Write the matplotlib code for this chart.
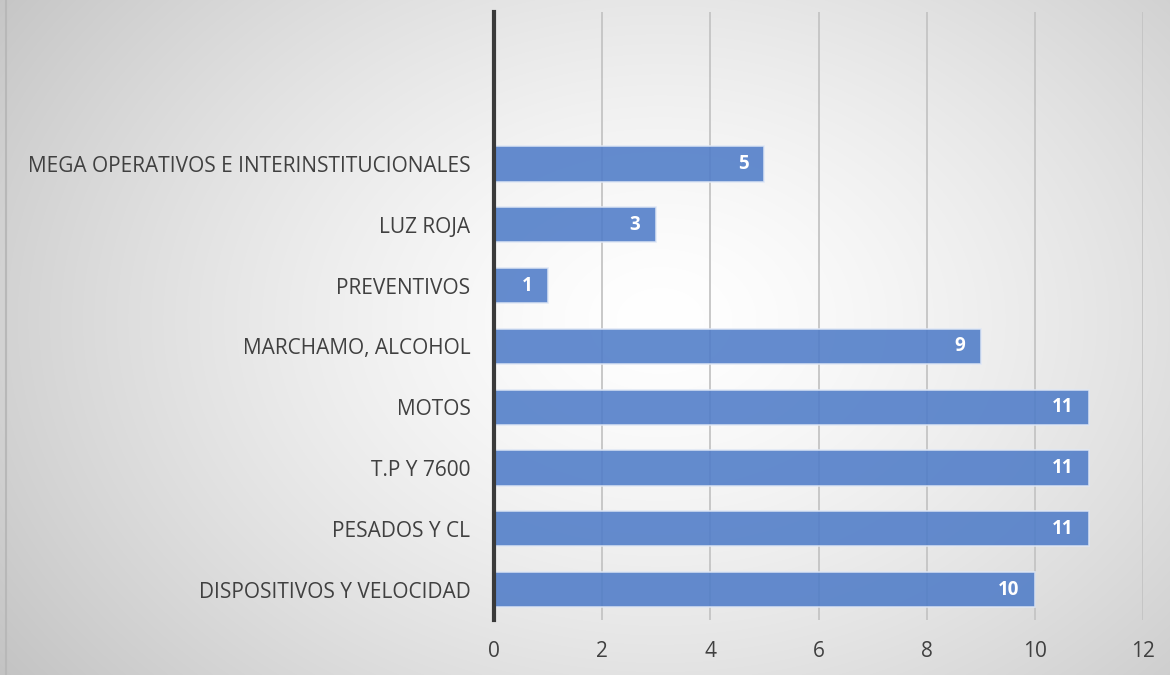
import numpy as np
import matplotlib
matplotlib.use("Agg")
import matplotlib.pyplot as plt
from matplotlib.lines import Line2D

categories = ["DISPOSITIVOS Y VELOCIDAD", "PESADOS Y CL", "T.P Y 7600", "MOTOS",
              "MARCHAMO, ALCOHOL", "PREVENTIVOS", "LUZ ROJA",
              "MEGA OPERATIVOS E INTERINSTITUCIONALES", "", ""]
values = [10, 11, 11, 11, 9, 1, 3, 5, None, None]
xticks = [0, 2, 4, 6, 8, 10, 12]

plt.rcParams['font.family'] = ['Open Sans', 'DejaVu Sans']

W, H = 1170, 675
fig = plt.figure(figsize=(W / 100, H / 100), dpi=100)

# radial gradient background
bg = fig.add_axes([0, 0, 1, 1], zorder=0)
yy, xx = np.mgrid[0:H, 0:W]
cx, cy = 660, 320
r = np.sqrt(((xx - cx) / 700.0) ** 2 + ((yy - cy) / 520.0) ** 2)
g = 1.0 - 0.19 * np.clip(r, 0, 1.2) ** 1.4
img = np.dstack([g, g, g])
bg.imshow(img, extent=[0, W, H, 0], aspect='auto')
bg.set_xlim(0, W)
bg.set_ylim(H, 0)
bg.axis('off')
bg.add_line(Line2D([6, 6], [0, H], color='#b8b8b8', lw=1.5))

ax = fig.add_axes([494 / W, 55 / H, (1143 - 494) / W, (663 - 55) / H], zorder=1)
ax.patch.set_alpha(0)

pos = np.arange(len(categories))
bar_vals = [v if v is not None else 0 for v in values]
bars = ax.barh(pos, bar_vals, height=0.58, color='#4f7cc8', alpha=0.88,
               edgecolor='#dfe7f5', linewidth=1.2, zorder=3)
for p, v in zip(pos, values):
    if v is None:
        continue
    ax.annotate(str(v), xy=(v, p), xytext=(-11.5, 0), textcoords='offset points',
                ha='right', va='center', color='white', fontweight='bold',
                fontsize=13.5, zorder=4)

ax.set_xlim(0, 12)
ax.set_ylim(-0.5, len(categories) - 0.5)
ax.set_xticks(xticks)
ax.set_xticklabels([str(t) for t in xticks])
ax.set_yticks(pos)
ax.set_yticklabels(categories)
ax.tick_params(axis='both', length=0, colors='#404040', labelsize=15)
ax.tick_params(axis='x', pad=15)
ax.tick_params(axis='y', pad=17)
ax.grid(axis='x', color='#c4c4c4', linewidth=1.3, zorder=1)
ax.grid(axis='y', visible=False)
for s in ['top', 'right', 'bottom']:
    ax.spines[s].set_visible(False)
ax.spines['left'].set_color('#3a3a3a')
ax.spines['left'].set_linewidth(3)
ax.spines['left'].set_zorder(5)

fig.savefig('out.png', dpi=100)
